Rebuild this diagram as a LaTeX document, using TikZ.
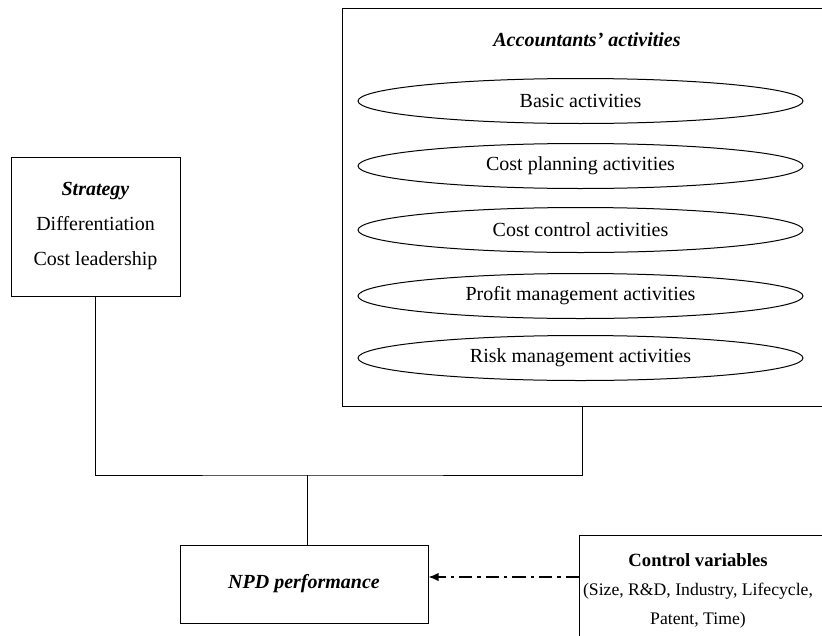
\documentclass[tikz,border=0pt]{standalone}
\usepackage{fontspec}
\setmainfont{Liberation Serif}
\usetikzlibrary{arrows.meta, positioning, shapes.geometric}

\begin{document}
\begin{tikzpicture}[
        x=0.6pt, y=-0.6pt,
        every node/.style={font=\fontsize{12}{14}\selectfont, inner sep=0pt},
        box/.style={draw, line width=0.6pt},
        act/.style={ellipse, draw, line width=0.6pt, minimum width=445*0.6pt, minimum height=45*0.6pt},
        head/.style={font=\fontsize{12}{14}\selectfont\bfseries\itshape}
    ]

    \tikzset{
    link/.style={line width=0.6pt},
    ctrl/.style={line width=0.8pt, -{Latex[length=6pt, width=5pt]}, dash pattern=on 8pt off 3pt on 2pt off 3pt}
}

    \useasboundingbox (0,0) rectangle (822,635);
    \clip (0,0) rectangle (822,635);

    \node[box, minimum width=169*0.6pt, minimum height=139*0.6pt, align=center,
          font=\fontsize{12}{21}\selectfont] (strat) at (95.5,226.5)
          {\textbf{\textit{Strategy}}\\Differentiation\\Cost leadership};

    \node[box, minimum width=481*0.6pt, minimum height=398*0.6pt] (acc) at (582.5,207) {};
    \node[head] (acctitle) at (587,40) {Accountants’ activities};
    \node[act] (basic) at (580.5,101) {Basic activities};
    \node[act] (plan) at (580.5,166) {Cost planning activities};
    \node[act] (cont) at (580.5,230) {Cost control activities};
    \node[act] (prof) at (580.5,296) {Profit management activities};
    \node[act] (risk) at (580.5,358) {Risk management activities};

    \node[box, minimum width=248*0.6pt, minimum height=78*0.6pt] (npd) at (304,584) {};
    \node[head] (npdtxt) at (npd) {NPD performance};

    \node[box, anchor=north west, minimum width=250*0.6pt, minimum height=110*0.6pt] (cv) at (579,535) {};
    \node[align=center, font=\fontsize{10.6}{17.5}\selectfont] (cvtxt) at (698,591)
          {{\fontsize{11.2}{17.5}\selectfont\bfseries Control variables}\\
           (Size, R\&D, Industry, Lifecycle,\\
           Patent, Time)};

    \coordinate (join) at (307,475);

    \draw[link] (strat.south) |- (join) -| (acc.south);
    \draw[link] (join) -- (join |- npd.north);

    \draw[ctrl] (cv.west |- 0,577) -- (npd.east |- 0,577);
\end{tikzpicture}
\end{document}
